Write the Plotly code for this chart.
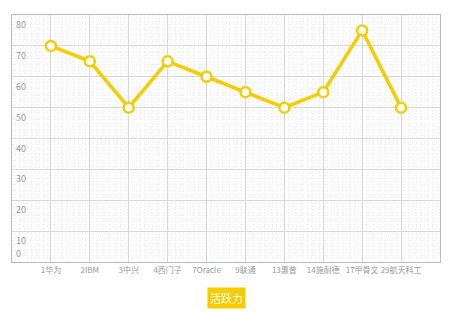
import plotly.graph_objects as go

categories = ["1华为", "2IBM", "3中兴", "4西门子", "7Oracle", "9联通", "13惠普", "14施耐德", "17甲骨文", "29航天科工"]
values = [70, 65, 50, 65, 60, 55, 50, 55, 75, 50]
series_name = "活跃力"
y_ticks = [0, 10, 20, 30, 40, 50, 60, 70, 80]

gold = "#F4CC00"
xs = list(range(1, len(categories) + 1))

fig = go.Figure()
fig.add_trace(go.Scatter(
    x=xs, y=values, mode="lines+markers", name=series_name,
    line=dict(color=gold, width=3.5),
    marker=dict(size=10, color="white", line=dict(color=gold, width=2.5)),
    showlegend=False,
))

annotations = []
for t in y_ticks:
    annotations.append(dict(
        text=str(t), x=0, xref="paper", y=t, yref="y",
        xanchor="left", yanchor="top" if t > 0 else "bottom", xshift=2, yshift=-1 if t > 0 else 0,
        showarrow=False, font=dict(size=9, color="#999"),
    ))

plot_h = 312 - 15 - 50
annotations.append(dict(
    text=series_name, x=0.5, xref="paper", y=-(298 - (312 - 50)) / plot_h, yref="paper",
    xanchor="center", yanchor="middle",
    showarrow=False, font=dict(color="white", size=11),
    bgcolor=gold, borderpad=2,
))

fig.update_layout(
    width=454, height=312,
    margin=dict(l=12, r=14, t=15, b=50),
    paper_bgcolor="white", plot_bgcolor="white",
    font=dict(family="Noto Sans CJK SC, Noto Sans, sans-serif", color="#999", size=10),
    xaxis=dict(
        range=[0, 11], tickmode="array", tickvals=xs, ticktext=categories,
        tickangle=0,
        showgrid=True, gridcolor="#d8d8d8", gridwidth=1,
        showline=True, linecolor="#bbb", mirror=True, ticks="",
        tickfont=dict(size=8, color="#999"),
        minor=dict(dtick=0.1, showgrid=True, gridcolor="#f3f3f3", griddash="dot", gridwidth=1),
        zeroline=False, fixedrange=True,
    ),
    yaxis=dict(
        range=[0, 80], tickmode="array", tickvals=y_ticks,
        showgrid=True, gridcolor="#d8d8d8", gridwidth=1,
        showline=True, linecolor="#bbb", mirror=True, ticks="",
        showticklabels=False,
        minor=dict(dtick=1, showgrid=True, gridcolor="#f3f3f3", griddash="dot", gridwidth=1),
        zeroline=False, fixedrange=True,
    ),
    annotations=annotations,
)

fig.write_html("out.html")
